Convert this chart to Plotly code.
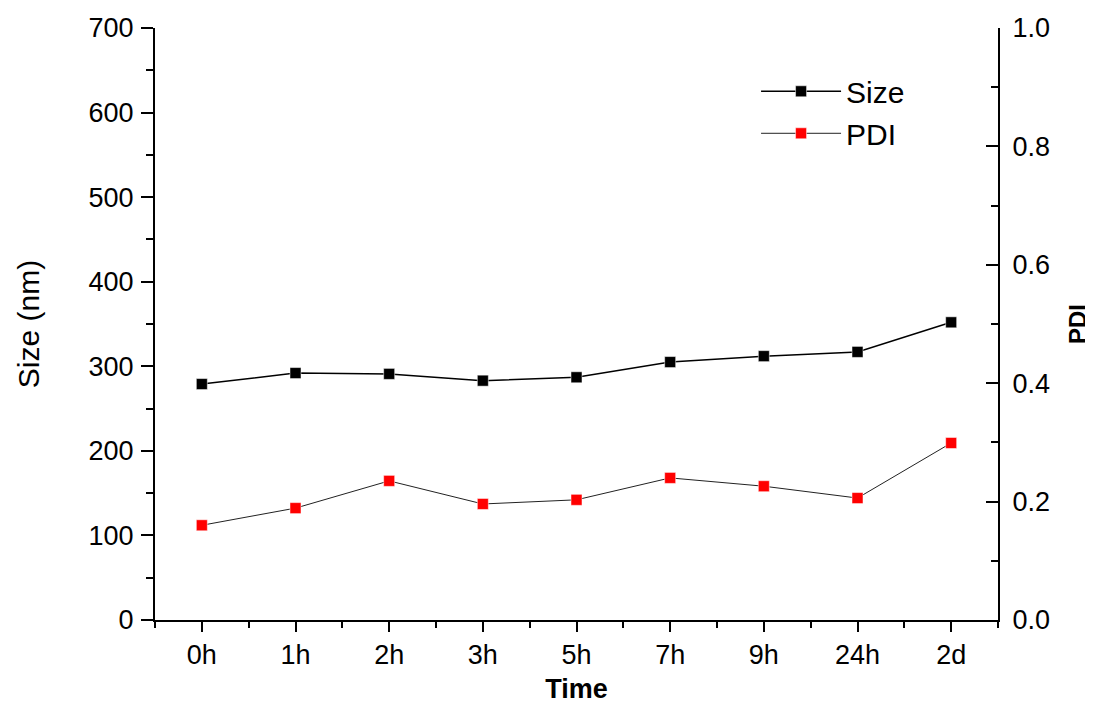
import plotly.graph_objects as go

times = ["0h", "1h", "2h", "3h", "5h", "7h", "9h", "24h", "2d"]
size_nm = [279, 292, 291, 283, 287, 305, 312, 317, 352]
pdi = [0.160, 0.189, 0.235, 0.196, 0.203, 0.240, 0.226, 0.206, 0.299]

xpos = list(range(len(times)))
FONT = "Liberation Sans, Arial, sans-serif"

fig = go.Figure()
fig.add_trace(go.Scatter(
    x=xpos, y=size_nm, name="Size", mode="lines+markers",
    line=dict(color="black", width=1.5),
    marker=dict(symbol="square", size=11, color="black", line=dict(color="white", width=0.5)),
))
fig.add_trace(go.Scatter(
    x=xpos, y=pdi, name="PDI", mode="lines+markers", yaxis="y2",
    line=dict(color="#222222", width=1),
    marker=dict(symbol="square", size=11, color="#ff0000", line=dict(color="white", width=0.5)),
))

fig.update_layout(
    width=1085, height=696,
    paper_bgcolor="white", plot_bgcolor="white",
    margin=dict(l=147, r=95, t=20, b=84, autoexpand=False),
    font=dict(family=FONT, color="black", size=27),
    showlegend=True,
    legend=dict(x=0.713, y=0.937, xanchor="left", yanchor="top",
                font=dict(size=30, family=FONT), itemwidth=80,
                bgcolor="rgba(0,0,0,0)", tracegroupgap=0),
    xaxis=dict(
        range=[-0.5, len(times) - 0.5],
        tickmode="array", tickvals=xpos, ticktext=times,
        ticks="outside", ticklen=10, tickwidth=2, tickcolor="black",
        showline=True, linecolor="black", linewidth=2,
        showgrid=False, zeroline=False,
        tickfont=dict(size=27),
        minor=dict(tickmode="linear", tick0=-0.5, dtick=1, ticks="outside",
                   ticklen=6, tickwidth=2, tickcolor="black", showgrid=False),
        title=dict(text="<b>Time</b>", font=dict(size=27), standoff=11),
    ),
    yaxis=dict(
        range=[0, 700], tickmode="linear", tick0=0, dtick=100,
        ticks="outside", ticklen=12, tickwidth=2, tickcolor="black",
        showline=True, linecolor="black", linewidth=2,
        showgrid=False, zeroline=False,
        tickfont=dict(size=27), ticklabelstandoff=2,
        minor=dict(tickmode="linear", tick0=50, dtick=100, ticks="outside",
                   ticklen=7, tickwidth=2, tickcolor="black", showgrid=False),
        title=dict(text="Size (nm)", font=dict(size=30), standoff=40),
    ),
    yaxis2=dict(
        range=[0, 1.0], overlaying="y", side="right",
        tickmode="linear", tick0=0, dtick=0.2, tickformat=".1f",
        ticks="inside", ticklen=12, tickwidth=2, tickcolor="black",
        showline=True, linecolor="black", linewidth=2,
        showgrid=False, zeroline=False,
        tickfont=dict(size=27), ticklabelstandoff=7,
        minor=dict(tickmode="linear", tick0=0.1, dtick=0.2, ticks="inside",
                   ticklen=7, tickwidth=2, tickcolor="black", showgrid=False),
        title=dict(text="<b>PDI</b>", font=dict(size=24), standoff=20),
    ),
)

fig.write_html("out.html")
